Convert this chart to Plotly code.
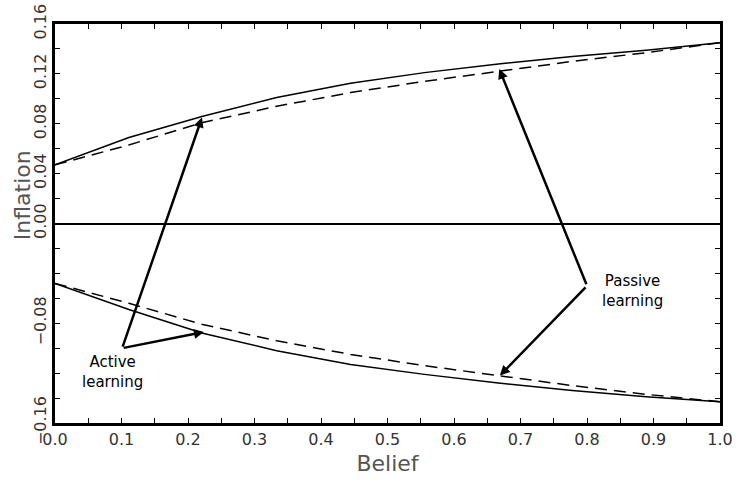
import plotly.graph_objects as go

# Data
belief = [0, 1/9, 2/9, 3/9, 4/9, 5/9, 6/9, 7/9, 8/9, 1.0]
upper_active = [0.047, 0.069, 0.086, 0.101, 0.1125, 0.121, 0.128, 0.134, 0.139, 0.145]
upper_passive = [0.047, 0.063, 0.081, 0.094, 0.105, 0.114, 0.122, 0.130, 0.137, 0.145]
lower_active = [-0.048, -0.069, -0.088, -0.102, -0.113, -0.121, -0.128, -0.134, -0.139, -0.143]
lower_passive = [-0.048, -0.064, -0.081, -0.094, -0.105, -0.114, -0.122, -0.130, -0.137, -0.143]

x_tickvals = [i * 0.05 for i in range(21)]
x_ticktext = ["%.1f" % v if i % 2 == 0 else "" for i, v in enumerate(x_tickvals)]
y_tickvals = [-0.16 + i * 0.02 for i in range(17)]
y_labels = {-0.16: "\u22120.16", -0.08: "\u22120.08", 0.0: "0.00", 0.04: "0.04",
            0.08: "0.08", 0.12: "0.12", 0.16: "0.16"}
y_ticktext = [y_labels.get(round(v, 2), "") for v in y_tickvals]

# Annotation arrows: (label, text position, arrow tail, arrow heads)
active_label = "Active<br>learning"
active_text_pos = (0.087, -0.119)
active_tail = (0.101, -0.100)
active_heads = [(0.221, 0.085), (0.224, -0.087)]
passive_label = "Passive<br>learning"
passive_text_pos = (0.868, -0.054)
passive_tail = (0.80, -0.050)
passive_heads = [(0.668, 0.124), (0.669, -0.122)]

fig = go.Figure()
line_w = 1.5
fig.add_trace(go.Scatter(x=belief, y=upper_active, mode="lines",
                         line=dict(color="black", width=line_w), showlegend=False))
fig.add_trace(go.Scatter(x=belief, y=upper_passive, mode="lines",
                         line=dict(color="black", width=line_w, dash="12px,7px"), showlegend=False))
fig.add_trace(go.Scatter(x=belief, y=lower_active, mode="lines",
                         line=dict(color="black", width=line_w), showlegend=False))
fig.add_trace(go.Scatter(x=belief, y=lower_passive, mode="lines",
                         line=dict(color="black", width=line_w, dash="12px,7px"), showlegend=False))

annotations = []
for tail, heads in [(active_tail, active_heads), (passive_tail, passive_heads)]:
    for hx, hy in heads:
        annotations.append(dict(x=hx, y=hy, ax=tail[0], ay=tail[1], xref="x", yref="y",
                                axref="x", ayref="y", text="", showarrow=True,
                                arrowhead=2, arrowsize=0.8, arrowwidth=2.5,
                                arrowcolor="black"))
for txt, pos in [(active_label, active_text_pos), (passive_label, passive_text_pos)]:
    annotations.append(dict(x=pos[0], y=pos[1], xref="x", yref="y", text=txt,
                            showarrow=False, align="center",
                            font=dict(family="DejaVu Sans", size=15, color="black")))
annotations.append(dict(x=-0.0496, y=0.571, xref="paper", yref="paper", text="Inflation",
                        showarrow=False, textangle=-90, xanchor="center", yanchor="middle",
                        font=dict(family="DejaVu Sans", size=22, color="#555")))

fig.update_layout(
    width=736, height=482,
    margin=dict(l=55, r=16, t=24, b=59, autoexpand=False),
    paper_bgcolor="white", plot_bgcolor="white",
    annotations=annotations,
    font=dict(family="DejaVu Sans", size=16, color="#333"),
)
fig.update_xaxes(range=[0, 1], tickvals=x_tickvals, ticktext=x_ticktext,
                 ticks="inside", ticklen=5, tickwidth=1, tickcolor="black",
                 showline=True, linewidth=3, linecolor="black", mirror="ticks",
                 showgrid=False, zeroline=False, automargin=False,
                 tickfont=dict(family="DejaVu Sans", size=16, color="#333"),
                 title=dict(text="Belief", standoff=8,
                            font=dict(family="DejaVu Sans", size=22, color="#555")))
fig.update_yaxes(range=[-0.16, 0.16], tickvals=y_tickvals, ticktext=y_ticktext,
                 tickangle=-90, automargin=False,
                 ticks="inside", ticklen=5, tickwidth=1, tickcolor="black",
                 showline=True, linewidth=3, linecolor="black", mirror="ticks",
                 showgrid=False, zeroline=True, zerolinecolor="black", zerolinewidth=1.5,
                 tickfont=dict(family="DejaVu Sans", size=16, color="#333"))

fig.write_html("out.html", config={"displayModeBar": False},
               post_script="document.body.style.margin='0';document.body.style.overflow='hidden';")
